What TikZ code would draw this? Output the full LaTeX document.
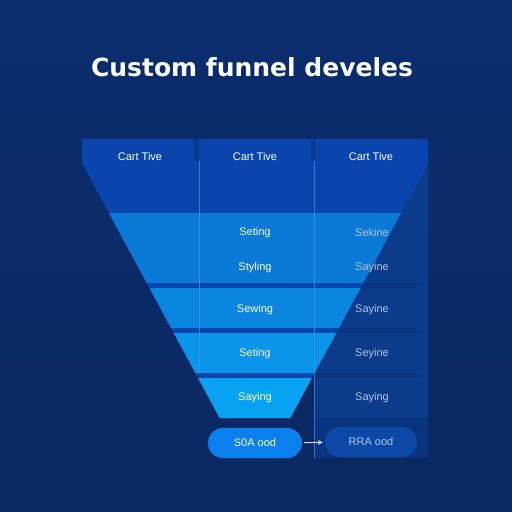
\documentclass[tikz,border=0pt]{standalone}
\usepackage{fontspec}
\setmainfont{Liberation Sans}
\newfontfamily\titlefont{DejaVu Sans}
\usetikzlibrary{calc, arrows.meta}

\definecolor{bgtop}{HTML}{0B2D6E}
\definecolor{bgbot}{HTML}{0A2862}
\definecolor{headblue}{HTML}{0945AC}
\definecolor{panelblue}{HTML}{0B3C8C}
\definecolor{paneldark}{HTML}{0A3380}
\definecolor{gapblue}{HTML}{0A3A8E}
\definecolor{bandA}{HTML}{0A7AD6}
\definecolor{bandB}{HTML}{0B86E0}
\definecolor{bandC}{HTML}{0A95EA}
\definecolor{bandD}{HTML}{08A2F2}
\definecolor{pillA}{HTML}{0A80EE}
\definecolor{pillB}{HTML}{0C49A6}
\definecolor{fadetxt}{HTML}{B0C3E6}
\definecolor{divline}{HTML}{4C92E4}

\tikzset{
  lbl/.style={text=white, font=\fontsize{11}{13}\selectfont, inner sep=0pt},
  faded/.style={lbl, text=fadetxt},
  pill/.style={rounded corners=15pt, minimum width=94pt, minimum height=30pt, inner sep=0pt}
}

% left and right edge of the funnel at height #1
\newcommand\fl[1]{{82+0.54*(#1-163)}}
\newcommand\fr[1]{{428-0.54*(#1-163)}}
\newcommand\funnelband[3]{\fill[#3] (\fl{#1},#1) -- (\fr{#1},#1) -- (\fr{#2},#2) -- (\fl{#2},#2) -- cycle;}

\begin{document}
\begin{tikzpicture}[x=1pt, y=-1pt]

    \useasboundingbox (0,0) rectangle (512,512);
    \shade[top color=bgtop, bottom color=bgbot] (0,0) rectangle (512,512);

    \node[text=white, font=\titlefont\bfseries\fontsize{25}{30}\selectfont, anchor=base] (title) at (252,76) {Custom funnel develes};

    % right column panel
    \fill[panelblue] (314,139) rectangle (428,418);
    \fill[paneldark] (314,418) rectangle (428,458);
    \foreach \y in {283,328,373}
        \fill[paneldark] (314,\y) rectangle (420,\y+5);

    % header and funnel backing
    \fill[headblue] (82,139) -- (428,139) -- (428,163) -- (\fr{378},378) -- (\fl{378},378) -- (82,163) -- cycle;

    \funnelband{213}{283}{bandA}
    \funnelband{288}{328}{bandB}
    \funnelband{333}{373}{bandC}
    \funnelband{378}{418}{bandD}

    % gaps between header columns
    \fill[gapblue] (194,139) rectangle (199,161);
    \fill[gapblue] (311,139) rectangle (315,161);
    \draw[divline, opacity=0.7, line width=0.8pt] (199,161) -- (199,373);
    \draw[divline, opacity=0.7, line width=0.8pt] (314,161) -- (314,458);

    \node[lbl] (hdA) at (140,157) {Cart Tive};
    \node[lbl] (hdB) at (255,157) {Cart Tive};
    \node[lbl] (hdC) at (371,157) {Cart Tive};

    \node[lbl] (midA) at (255,233) {Seting};
    \node[lbl] (midB) at (255,268) {Styling};
    \node[lbl] (midC) at (255,310) {Sewing};
    \node[lbl] (midD) at (255,354) {Seting};
    \node[lbl] (midE) at (255,398) {Saying};

    \node[faded] (rgtA) at (372,233) {Sekine};
    \node[faded] (rgtB) at (372,268) {Sayine};
    \node[faded] (rgtC) at (372,310) {Sayine};
    \node[faded] (rgtD) at (372,354) {Seyine};
    \node[faded] (rgtE) at (372,398) {Saying};

    \node[pill, fill=pillA, lbl] (pillL) at (255,443) {S0A ood};
    \node[pill, fill=pillB, faded, minimum width=92pt] (pillR) at (371,442) {RRA ood};
    \draw[-{Stealth[length=5pt, width=5pt]}, white!85!blue, line width=1pt, shorten <=2pt, shorten >=2pt] (pillL) -- (pillR);

\end{tikzpicture}
\end{document}
